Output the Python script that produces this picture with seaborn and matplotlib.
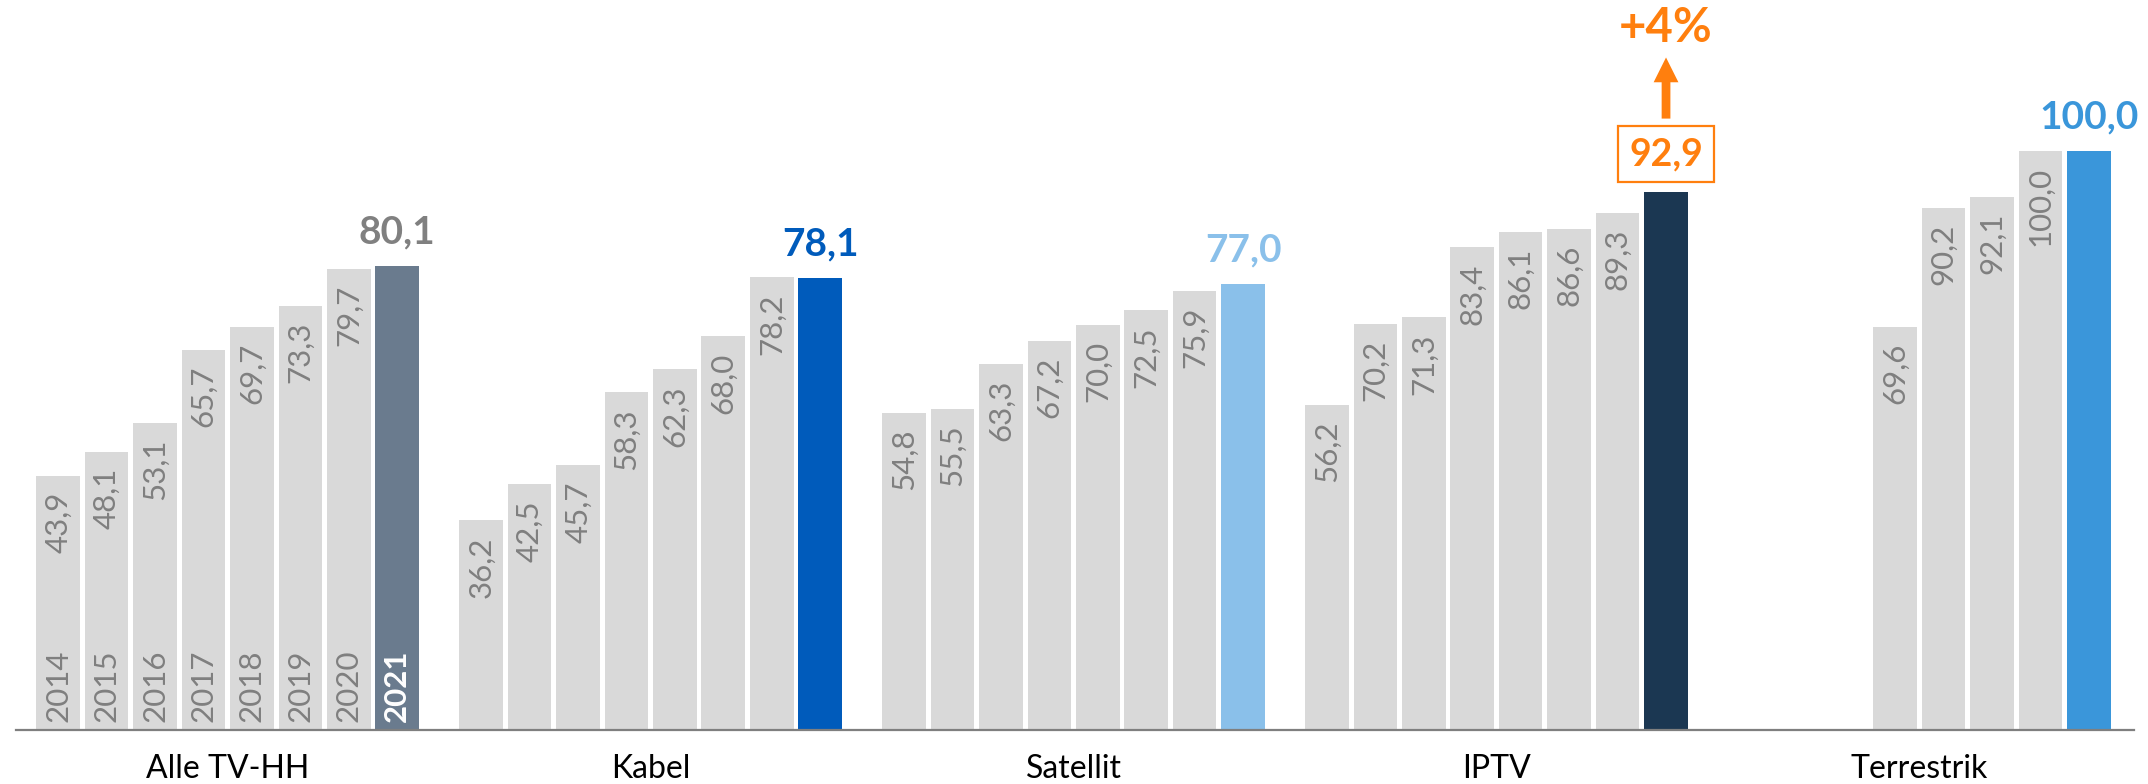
import matplotlib
matplotlib.use("Agg")
import matplotlib.pyplot as plt
import matplotlib.transforms as mtransforms
import pandas as pd
import seaborn as sns

# Reichweite je Empfangsweg, 2014-2021
groups = ["Alle TV-HH", "Kabel", "Satellit", "IPTV", "Terrestrik"]
years = ["2014", "2015", "2016", "2017", "2018", "2019", "2020", "2021"]
alle_tv_hh = [43.9, 48.1, 53.1, 65.7, 69.7, 73.3, 79.7, 80.1]
kabel = [36.2, 42.5, 45.7, 58.3, 62.3, 68.0, 78.2, 78.1]
satellit = [54.8, 55.5, 63.3, 67.2, 70.0, 72.5, 75.9, 77.0]
iptv = [56.2, 70.2, 71.3, 83.4, 86.1, 86.6, 89.3, 92.9]
terrestrik = [69.6, 90.2, 92.1, 100.0, 100.0]
terrestrik_years = ["2017", "2018", "2019", "2020", "2021"]
iptv_change = "+4%"

series = {
    "Alle TV-HH": (years, alle_tv_hh),
    "Kabel": (years, kabel),
    "Satellit": (years, satellit),
    "IPTV": (years, iptv),
    "Terrestrik": (terrestrik_years, terrestrik),
}

highlight = {
    "Alle TV-HH": "#6A7B8E",
    "Kabel": "#005BBB",
    "Satellit": "#8AC0EA",
    "IPTV": "#1B3752",
    "Terrestrik": "#3A96DA",
}
label_colors = {
    "Alle TV-HH": "#808080",
    "Kabel": "#005BBB",
    "Satellit": "#8AC0EA",
    "IPTV": "#FF7F0E",
    "Terrestrik": "#3A96DA",
}
ORANGE = "#FF7F0E"
GRAY_BAR = "#D9D9D9"
GRAY_TXT = "#7F7F7F"
PERIOD = 8.73  # spacing between group starts, in bar slots


def fmt(v):
    return f"{v:.1f}".replace(".", ",")


rows = []
for g_idx, g in enumerate(groups):
    yrs, vals = series[g]
    for y, v in zip(yrs, vals):
        pos = g_idx * PERIOD + years.index(y)
        tone = g if y == years[-1] else "prior"
        rows.append({"group": g, "year": y, "value": v, "pos": pos, "tone": tone})
df = pd.DataFrame(rows)

sns.set_theme(style="white")
plt.rcParams["font.family"] = ["Lato", "DejaVu Sans"]

fig = plt.figure(figsize=(21.48, 7.84), dpi=100)
ax = fig.add_axes([16 / 2148, 54 / 784, (2134 - 16) / 2148, 730 / 784])

palette = {"prior": GRAY_BAR, **highlight}
sns.barplot(data=df, x="pos", y="value", hue="tone", palette=palette,
            native_scale=True, dodge=False, width=0.9, saturation=1,
            errorbar=None, legend=False, linewidth=0, ax=ax)

ax.set_xlim(-0.87, 4 * PERIOD + 7 + 0.93)
ax.set_ylim(0, 126.1)

for r in df.itertuples():
    if r.year != years[-1]:
        # value written downwards from the top of each earlier-year bar
        ax.annotate(fmt(r.value), (r.pos, r.value),
                    xytext=(0, -11.5), textcoords="offset points",
                    rotation=90, ha="center", va="top",
                    fontsize=22.5, color=GRAY_TXT)
    elif r.group == "IPTV":
        ax.annotate(fmt(r.value), (r.pos, r.value),
                    xytext=(0, 27.5), textcoords="offset points",
                    ha="center", va="center", fontsize=27, fontweight="bold",
                    color=ORANGE,
                    bbox=dict(boxstyle="square,pad=0.3", fc="white",
                              ec=ORANGE, lw=1.6))
        # growth arrow and label above the boxed value
        base = mtransforms.offset_copy(ax.transData, fig=fig, x=0, y=53, units="points")
        tip = mtransforms.offset_copy(ax.transData, fig=fig, x=0, y=97, units="points")
        ax.annotate("", xy=(r.pos, r.value), xycoords=tip,
                    xytext=(r.pos, r.value), textcoords=base,
                    arrowprops=dict(arrowstyle="simple,head_length=0.85,head_width=0.85,tail_width=0.3",
                                    mutation_scale=21, fc=ORANGE, ec="none",
                                    shrinkA=0, shrinkB=0))
        ax.annotate(iptv_change, (r.pos, r.value), xytext=(0, 118),
                    textcoords="offset points", ha="center", va="center",
                    fontsize=34, fontweight="bold", color=ORANGE)
    else:
        ax.annotate(fmt(r.value), (r.pos, r.value),
                    xytext=(0, 24.5), textcoords="offset points",
                    ha="center", va="center", fontsize=28, fontweight="bold",
                    color=label_colors[r.group])

# year labels inside the first group's bars
first = df[df.group == groups[0]]
for r in first.itertuples():
    latest = r.year == years[-1]
    ax.annotate(r.year, (r.pos, 0), xytext=(0, 6), textcoords="offset points",
                rotation=90, ha="center", va="bottom", fontsize=22.5,
                color="white" if latest else GRAY_TXT,
                fontweight="bold" if latest else "normal")

centers = [i * PERIOD + 3.5 for i in range(len(groups))]
ax.set_xticks(centers)
ax.set_xticklabels(groups, fontsize=23, color="black")
ax.tick_params(axis="x", length=0, pad=17)
ax.set_yticks([])
ax.set_xlabel("")
ax.set_ylabel("")
for s in ["top", "left", "right"]:
    ax.spines[s].set_visible(False)
ax.spines["bottom"].set_color("#7F7F7F")
ax.spines["bottom"].set_linewidth(1.6)
ax.set_facecolor("white")
fig.patch.set_facecolor("white")

fig.savefig("out.png", dpi=100, facecolor="white")
